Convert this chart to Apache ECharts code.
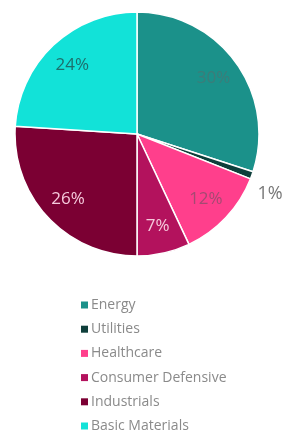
<!DOCTYPE html>
<html>
<head>
<meta charset="utf-8">
<script src="https://cdn.jsdelivr.net/npm/echarts@6/dist/echarts.min.js"></script>
<style>
  html, body { margin: 0; padding: 0; background: #fff; }
  #chart { width: 284px; height: 431px; }
</style>
</head>
<body>
<div id="chart"></div>
<script>
// sector shares (%)
const sectors = ['Energy', 'Utilities', 'Healthcare', 'Consumer Defensive', 'Industrials', 'Basic Materials']
const shares = [30, 1, 12, 7, 26, 24]
const colors = ['#1b918a', '#0e3f3b', '#ff3f8c', '#b3125d', '#7b0033', '#12e2d8']
const labelColors = ['#3d7c79', '#666666', '#a44a72', '#f6c9dc', '#f6c9dc', '#1d6f6c']

const chart = echarts.init(document.getElementById('chart'))

const center = [137, 134]
const R = 122

const option = {
  animation: false,
  color: colors,
  legend: {
    orient: 'vertical',
    left: 76,
    top: 293,
    height: 300,
    itemWidth: 7,
    itemHeight: 7,
    itemGap: 10.2,
    itemStyle: { borderWidth: 0 },
    icon: 'rect',
    textStyle: { color: '#8a8a8a', fontSize: 14, fontFamily: 'Open Sans', padding: [0, 0, 0, -2] },
    data: sectors
  },
  series: [
    {
      type: 'pie',
      silent: true,
      center: center,
      radius: [0, R],
      startAngle: 90,
      clockwise: true,
      label: { show: false },
      labelLine: { show: false },
      itemStyle: { borderColor: '#fff', borderWidth: 1.5 },
      data: sectors.map((n, i) => ({ name: n, value: shares[i] }))
    },
    {
      type: 'pie',
      silent: true,
      center: center,
      radius: [R * 0.5, R],
      startAngle: 90,
      clockwise: true,
      itemStyle: { color: 'transparent' },
      label: {
        position: 'inside',
        formatter: '{c}%',
        fontSize: 17,
        fontFamily: 'Open Sans',
        overflow: 'none'
      },
      labelLine: { show: false },
      data: sectors.map((n, i) => ({
        name: n + ' ',
        value: shares[i],
        label: i === 1
          ? { position: 'outside', color: '#777', fontSize: 18, offset: [-3, 17], overflow: 'none' }
          : { color: labelColors[i] },
        labelLine: { show: false, length: 4, length2: 0 }
      }))
    }
  ]
}
chart.setOption(option)
</script>
</body>
</html>
